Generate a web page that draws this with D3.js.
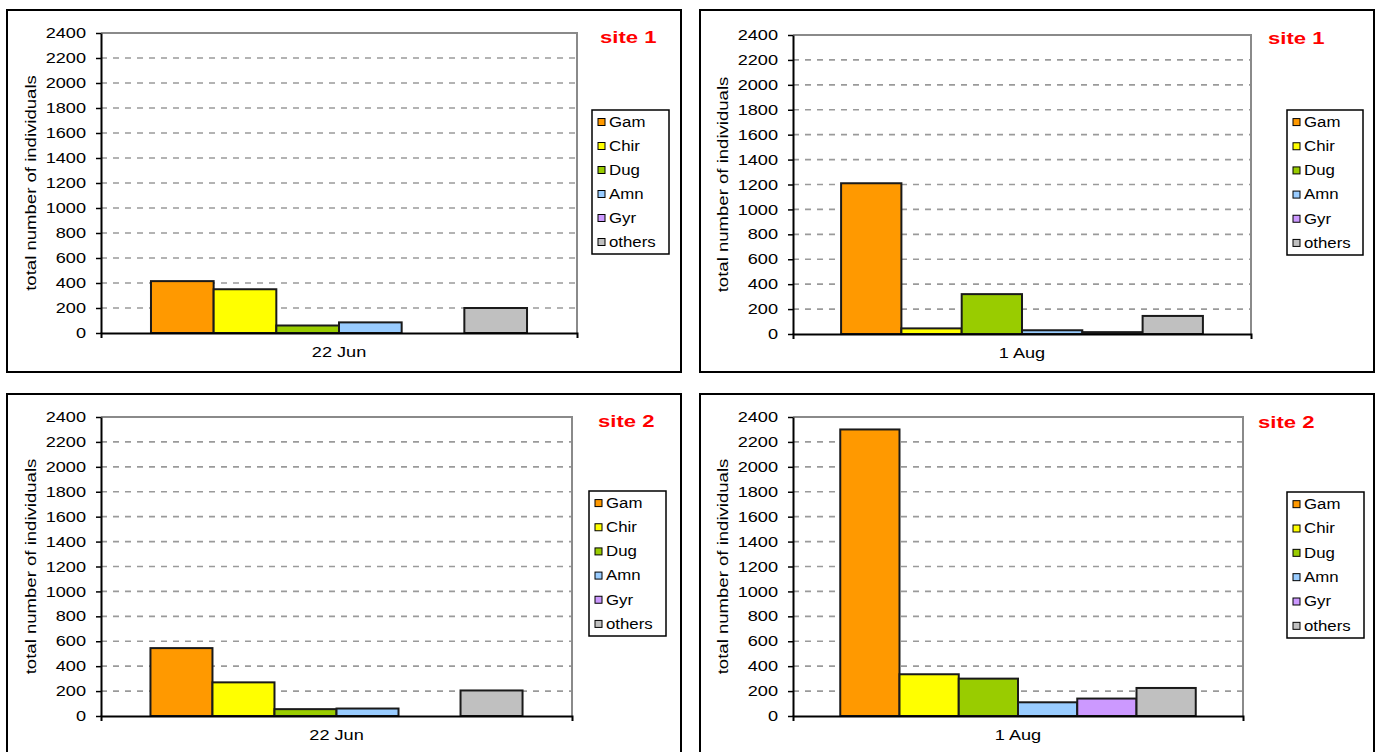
<!DOCTYPE html>
<html>
<head>
<meta charset="utf-8">
<script src="https://cdn.jsdelivr.net/npm/d3@7"></script>
<style>
  html, body { margin: 0; padding: 0; background: #fff; }
  svg { display: block; font-family: "Liberation Sans", Arial, sans-serif; }
</style>
</head>
<body>
<svg id="chart" width="1380" height="752"></svg>
<script>
// ---- data ----
const categories = ["Gam", "Chir", "Dug", "Amn", "Gyr", "others"];
const colors = ["#FF9900", "#FFFF00", "#99CC00", "#99CCFF", "#CC99FF", "#C0C0C0"];
const yTicks = [0, 200, 400, 600, 800, 1000, 1200, 1400, 1600, 1800, 2000, 2200, 2400];
const yTitle = "total number of individuals";
const site1Jun = [415, 350, 60, 85, 0, 200];
const site1Aug = [1210, 45, 320, 30, 15, 145];
const site2Jun = [545, 270, 55, 60, 0, 205];
const site2Aug = [2300, 335, 300, 110, 140, 225];

// ---- layout ----
const panels = [
  { title: "site 1", date: "22 Jun", values: site1Jun, frame: [7, 10, 681, 372], plot: [101, 33, 577, 333], legend: [592, 110, 669, 254], titlePos: [600, 43] },
  { title: "site 1", date: "1 Aug", values: site1Aug, frame: [700, 10, 1374, 372], plot: [793, 35, 1251, 334], legend: [1287, 110, 1363, 255], titlePos: [1268, 44] },
  { title: "site 2", date: "22 Jun", values: site2Jun, frame: [7, 394, 681, 775], plot: [101, 417, 572, 716], legend: [589, 491, 666, 636], titlePos: [598, 427] },
  { title: "site 2", date: "1 Aug", values: site2Aug, frame: [700, 394, 1374, 775], plot: [793, 417, 1243, 716], legend: [1287, 492, 1364, 638], titlePos: [1258, 428] }
];

const STRETCH = 1.3;
function stretch(sel, k) {
  sel.each(function () {
    const w = this.getComputedTextLength();
    d3.select(this).attr("textLength", w * (k || STRETCH)).attr("lengthAdjust", "spacingAndGlyphs");
  });
}

const svg = d3.select("#chart");
svg.append("rect").attr("width", 1380).attr("height", 752).attr("fill", "#fff");

panels.forEach(p => {
  const g = svg.append("g");
  const [fx0, fy0, fx1, fy1] = p.frame;
  g.append("rect").attr("x", fx0).attr("y", fy0).attr("width", fx1 - fx0).attr("height", fy1 - fy0)
    .attr("fill", "#fff").attr("stroke", "#000").attr("stroke-width", 2);

  const [px0, py0, px1, py1] = p.plot;
  const y = d3.scaleLinear().domain([0, 2400]).range([py1, py0]);
  const x0 = d3.scaleBand().domain([p.date]).range([px0, px1]).paddingInner(0.21).paddingOuter(0.1);
  const x1 = d3.scaleBand().domain(categories).range([0, x0.bandwidth()]).padding(0);

  // gridlines
  g.append("g").selectAll("line").data(yTicks.filter(t => t > 0 && t < 2400)).join("line")
    .attr("x1", px0).attr("x2", px1)
    .attr("y1", d => y(d)).attr("y2", d => y(d))
    .attr("stroke", "#9a9a9a").attr("stroke-width", 1.6).attr("stroke-dasharray", "6,6");

  // top & right border of plot area
  g.append("path").attr("d", `M${px0},${py0}H${px1}V${py1}`)
    .attr("fill", "none").attr("stroke", "#8a8a8a").attr("stroke-width", 2);

  // bars
  const bars = g.append("g").attr("transform", `translate(${x0(p.date)},0)`);
  bars.selectAll("rect").data(categories.map((c, i) => ({ c, v: p.values[i], col: colors[i] }))).join("rect")
    .attr("x", d => x1(d.c))
    .attr("y", d => y(d.v))
    .attr("width", x1.bandwidth())
    .attr("height", d => y(0) - y(d.v))
    .attr("fill", d => d.col)
    .attr("stroke", "#1a1a1a").attr("stroke-width", 2);

  // y axis
  const yAxis = g.append("g").attr("transform", `translate(${px0},0)`)
    .call(d3.axisLeft(y).tickValues(yTicks).tickFormat(d3.format("d")).tickSize(5).tickPadding(10).tickSizeOuter(0));
  yAxis.select(".domain").attr("stroke", "#000").attr("stroke-width", 2);
  yAxis.selectAll(".tick line").attr("stroke", "#000").attr("stroke-width", 1.5);
  yAxis.selectAll(".tick text").attr("font-size", 14.5).attr("fill", "#000").attr("font-family", "Liberation Sans, Arial, sans-serif");
  stretch(yAxis.selectAll(".tick text"), 1.25);

  // x axis
  const xAxis = g.append("g").attr("transform", `translate(0,${py1})`)
    .call(d3.axisBottom(x0).tickSize(0).tickPadding(14).tickSizeOuter(5));
  xAxis.select(".domain").attr("stroke", "#000").attr("stroke-width", 2);
  xAxis.selectAll(".tick text").attr("font-size", 14.5).attr("fill", "#000").attr("dy", "0.71em")
    .attr("font-family", "Liberation Sans, Arial, sans-serif");
  stretch(xAxis.selectAll(".tick text"), 1.25);

  // y title
  const yt = g.append("text")
    .attr("transform", `translate(${px0 - 65},${(py0 + py1) / 2}) rotate(-90)`)
    .attr("text-anchor", "middle").attr("font-size", 14.5).attr("fill", "#000")
    .text(yTitle);
  stretch(yt, 1.28);

  // title
  const tt = g.append("text").attr("x", p.titlePos[0]).attr("y", p.titlePos[1])
    .attr("font-size", 17).attr("font-weight", "bold").attr("fill", "#FF0000").text(p.title);
  stretch(tt);

  // legend
  const [lx0, ly0, lx1, ly1] = p.legend;
  g.append("rect").attr("x", lx0).attr("y", ly0).attr("width", lx1 - lx0).attr("height", ly1 - ly0)
    .attr("fill", "#fff").attr("stroke", "#000").attr("stroke-width", 1.5);
  const rowH = (ly1 - ly0) / categories.length;
  const items = g.append("g").selectAll("g").data(categories).join("g")
    .attr("transform", (d, i) => `translate(${lx0},${ly0 + rowH * (i + 0.5)})`);
  items.append("rect").attr("x", 6).attr("y", -3.5).attr("width", 7).attr("height", 7)
    .attr("fill", (d, i) => colors[i]).attr("stroke", "#000").attr("stroke-width", 1);
  const lt = items.append("text").attr("x", 17).attr("dy", "0.35em").attr("font-size", 14).attr("fill", "#000")
    .text(d => d);
  stretch(lt, 1.2);
});
</script>
</body>
</html>
